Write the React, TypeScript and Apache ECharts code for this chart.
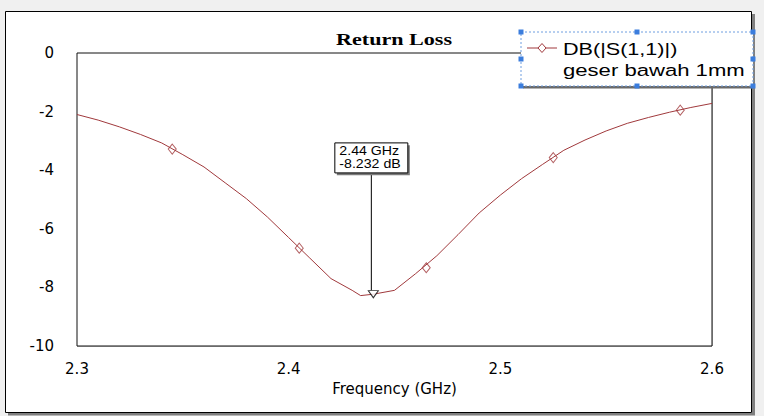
import React, { useEffect, useRef } from "react";
import * as echarts from "echarts";

// ---- data ----
const freqGHz = [
  2.30, 2.31, 2.32, 2.33, 2.34, 2.35, 2.36, 2.37, 2.38, 2.39,
  2.40, 2.41, 2.42, 2.43, 2.434, 2.44, 2.45, 2.46, 2.47, 2.48,
  2.49, 2.50, 2.51, 2.52, 2.53, 2.54, 2.55, 2.56, 2.57, 2.58,
  2.59, 2.60,
];
const returnLossDb = [
  -2.10, -2.29, -2.52, -2.78, -3.07, -3.47, -3.89, -4.43, -4.97, -5.60,
  -6.30, -7.00, -7.70, -8.10, -8.28, -8.232, -8.10, -7.53, -6.92, -6.20,
  -5.46, -4.85, -4.29, -3.80, -3.32, -2.97, -2.66, -2.40, -2.20, -2.02,
  -1.86, -1.72,
];
const symbolFreqGHz = [2.345, 2.405, 2.465, 2.525, 2.585];
const symbolDb = [-3.28, -6.66, -7.33, -3.57, -1.95];
const markerFreqGHz = 2.44;
const markerDb = -8.232;
const markerLines = ["2.44 GHz", "-8.232 dB"];

const xMin = 2.3;
const xMax = 2.6;
const xStep = 0.1;
const yMin = -10;
const yMax = 0;
const yStep = 2;

const titleText = "Return Loss";
const xAxisName = "Frequency (GHz)";
const legendLines = ["DB(|S(1,1)|)", "geser bawah 1mm"];

const curveColor = "#a0393c";
const labelFont = "'DejaVu Sans', 'Liberation Sans', Arial, sans-serif";
const sansFont = "'Liberation Sans', Arial, sans-serif";
const serifFont = "'Liberation Serif', 'Times New Roman', serif";

export default function App() {
  const ref = useRef<HTMLDivElement>(null);

  useEffect(() => {
    const chart = echarts.init(ref.current!, null, { renderer: "svg" });
    chart.setOption({
      animation: false,
      backgroundColor: "#f0f0f0",
      grid: {
        left: 77,
        top: 53,
        width: 635,
        height: 293,
        show: true,
        backgroundColor: "#ffffff",
        borderColor: "#111111",
        borderWidth: 1,
        z: 1,
      },
      xAxis: {
        type: "value",
        min: xMin,
        max: xMax,
        interval: xStep,
        name: xAxisName,
        nameLocation: "middle",
        nameGap: 35,
        nameTextStyle: { fontFamily: labelFont, fontSize: 15, color: "#000" },
        axisLine: { show: false },
        axisTick: { show: false },
        axisLabel: {
          margin: 15,
          fontFamily: labelFont,
          fontSize: 15,
          color: "#000",
          formatter: (v: number) => v.toFixed(1),
        },
        splitLine: { show: true, lineStyle: { color: "#c4c4c4", width: 1 } },
      },
      yAxis: {
        type: "value",
        min: yMin,
        max: yMax,
        interval: yStep,
        axisLine: { show: false },
        axisTick: { show: false },
        axisLabel: {
          margin: 23,
          fontFamily: labelFont,
          fontSize: 15,
          color: "#000",
        },
        splitLine: { show: true, lineStyle: { color: "#c4c4c4", width: 1 } },
      },
      series: [
        {
          name: legendLines[0],
          type: "line",
          data: freqGHz.map((f, i) => [f, returnLossDb[i]]),
          showSymbol: false,
          smooth: false,
          lineStyle: { color: curveColor, width: 1 },
          z: 3,
        },
        {
          type: "scatter",
          data: symbolFreqGHz.map((f, i) => [f, symbolDb[i]]),
          symbol: "diamond",
          symbolSize: [8, 10],
          itemStyle: { color: "rgba(255,255,255,0)", borderColor: curveColor, borderWidth: 1 },
          z: 4,
        },
        {
          type: "scatter",
          data: [[markerFreqGHz, markerDb]],
          symbol: "triangle",
          symbolRotate: 180,
          symbolSize: [10, 7],
          itemStyle: { color: "#ffffff", borderColor: "#000", borderWidth: 1 },
          z: 6,
        },
      ],
    });

    const [px, py] = chart.convertToPixel({ gridIndex: 0 }, [markerFreqGHz, markerDb]) as number[];

    const handle = (x: number, y: number) => ({
      type: "rect",
      shape: { x: x - 2.5, y: y - 2.5, width: 5, height: 5 },
      style: { fill: "#3b7ddd" },
      z: 60,
    });

    chart.setOption({
      graphic: {
        elements: [
          // outer frame
          {
            type: "rect",
            shape: { x: 5.5, y: 11.5, width: 746, height: 401 },
            style: { fill: "#ffffff", stroke: "#000", lineWidth: 1 },
            z: -10,
            silent: true,
          },
          { type: "rect", shape: { x: 752, y: 14, width: 3, height: 401 }, style: { fill: "#808080" }, z: -9 },
          { type: "rect", shape: { x: 8, y: 413, width: 747, height: 2.5 }, style: { fill: "#808080" }, z: -9 },
          // title
          {
            type: "text",
            x: 394,
            y: 39,
            scaleX: 1.3,
            style: {
              text: titleText,
              font: `bold 17px ${serifFont}`,
              fill: "#000",
              align: "center",
              verticalAlign: "middle",
            },
            z: 20,
          },
          // marker callout
          {
            type: "line",
            shape: { x1: px - 2, y1: py - 121, x2: px - 2, y2: py - 4 },
            style: { stroke: "#000", lineWidth: 1 },
            z: 20,
          },
          {
            type: "rect",
            shape: { x: px - 36.5, y: py - 149, width: 73, height: 30 },
            style: { fill: "#7a7a7a" },
            z: 20,
          },
          {
            type: "rect",
            shape: { x: px - 38.5, y: py - 151.3, width: 73, height: 30 },
            style: { fill: "#ffffff", stroke: "#000", lineWidth: 1 },
            z: 21,
          },
          {
            type: "text",
            x: px - 34,
            y: py - 143,
            scaleX: 1.09,
            style: { text: markerLines[0], font: `13px ${sansFont}`, fill: "#000", verticalAlign: "middle" },
            z: 22,
          },
          {
            type: "text",
            x: px - 34,
            y: py - 130.5,
            scaleX: 1.09,
            style: { text: markerLines[1], font: `13px ${sansFont}`, fill: "#000", verticalAlign: "middle" },
            z: 22,
          },
          // legend box
          {
            type: "rect",
            shape: { x: 523, y: 86, width: 230, height: 2.5 },
            style: { fill: "#6a6a6a" },
            z: 49,
          },
          {
            type: "rect",
            shape: { x: 521, y: 32, width: 232, height: 54 },
            style: { fill: "#ffffff", stroke: "#6f9ee0", lineWidth: 1, lineDash: [2, 2] },
            z: 50,
          },
          handle(521, 32), handle(637, 32), handle(753, 32),
          handle(521, 59), handle(753, 59),
          handle(521, 86), handle(637, 86), handle(753, 86),
          {
            type: "line",
            shape: { x1: 527, y1: 48, x2: 557, y2: 48 },
            style: { stroke: curveColor, lineWidth: 1 },
            z: 55,
          },
          {
            type: "polygon",
            shape: { points: [[542, 43.5], [546, 48], [542, 52.5], [538, 48]] },
            style: { fill: "#ffffff", stroke: curveColor, lineWidth: 1 },
            z: 56,
          },
          {
            type: "text",
            x: 563,
            y: 48.5,
            scaleX: 1.27,
            style: { text: legendLines[0], font: `17px ${sansFont}`, fill: "#000", verticalAlign: "middle" },
            z: 56,
          },
          {
            type: "text",
            x: 563,
            y: 69.5,
            scaleX: 1.3,
            style: { text: legendLines[1], font: `17px ${sansFont}`, fill: "#000", verticalAlign: "middle" },
            z: 56,
          },
        ],
      },
    });

    return () => chart.dispose();
  }, []);

  return (
    <div
      ref={ref}
      style={{ position: "absolute", left: 0, top: 0, width: 764, height: 416 }}
    />
  );
}
